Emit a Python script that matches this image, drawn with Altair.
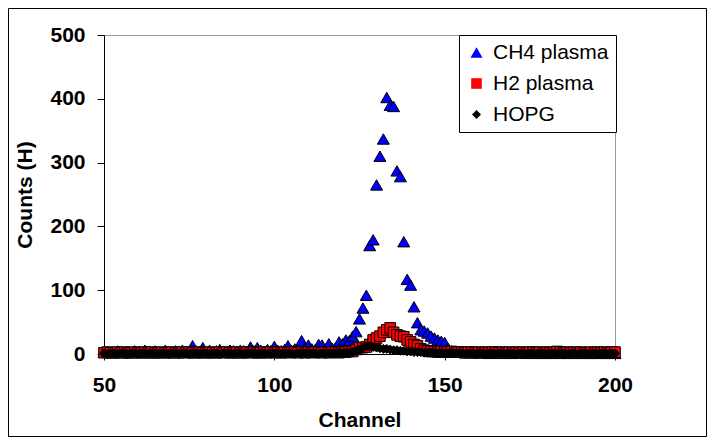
import altair as alt
import pandas as pd

channels = list(range(50, 201))

ch4_counts = [
    3, 4, 2, 3, 5, 3, 2, 4, 3, 5,
    3, 4, 6, 3, 2, 5, 4, 3, 6, 4,
    3, 5, 4, 6, 3, 4, 13, 5, 4, 10,
    4, 6, 3, 5, 7, 4, 3, 6, 5, 4,
    6, 5, 4, 11, 5, 10, 6, 4, 7, 5,
    12, 6, 5, 7, 13, 6, 8, 5, 21, 9,
    14, 8, 7, 15, 14, 8, 16, 9, 10, 19,
    16, 22, 21, 28, 35, 55, 72, 92, 170, 179,
    265, 310, 337, 402, 390, 388, 287, 278, 176, 117,
    108, 74, 49, 38, 36, 33, 28, 25, 22, 20,
    18, 9, 5, 4, 3, 3, 2, 3, 2, 2,
    2, 3, 2, 1, 2, 2, 3, 1, 2, 2,
    1, 2, 2, 3, 1, 2, 2, 1, 2, 1,
    2, 1, 2, 2, 1, 3, 1, 2, 1, 2,
    1, 2, 1, 1, 2, 1, 2, 1, 1, 2,
    1,
]

h2_counts = [
    2, 3, 2, 2, 3, 2, 3, 2, 2, 3,
    2, 2, 3, 2, 3, 2, 2, 3, 2, 2,
    3, 2, 2, 3, 2, 3, 2, 2, 3, 2,
    2, 3, 2, 2, 3, 2, 3, 2, 2, 3,
    2, 2, 3, 2, 3, 2, 2, 3, 2, 3,
    2, 3, 2, 3, 2, 3, 3, 2, 3, 2,
    3, 2, 3, 3, 2, 3, 2, 3, 3, 2,
    3, 3, 4, 4, 7, 10, 10, 11, 15, 22,
    25, 28, 34, 38, 41, 34, 30, 28, 27, 22,
    19, 15, 13, 8, 6, 5, 4, 4, 3, 4,
    3, 3, 4, 3, 3, 3, 2, 3, 3, 2,
    3, 2, 3, 2, 3, 3, 2, 3, 2, 3,
    2, 3, 2, 3, 2, 3, 3, 2, 3, 2,
    3, 2, 3, 4, 3, 2, 3, 2, 3, 2,
    3, 2, 2, 3, 2, 3, 2, 3, 2, 3,
    3,
]

hopg_counts = [
    1, 0, 1, 1, 0, 1, 1, 0, 1, 1,
    0, 1, 1, 0, 1, 1, 0, 1, 1, 0,
    1, 1, 0, 1, 1, 0, 1, 1, 0, 1,
    1, 0, 1, 1, 0, 1, 1, 1, 0, 1,
    1, 0, 1, 1, 1, 0, 1, 1, 0, 1,
    1, 1, 0, 1, 1, 1, 0, 1, 1, 1,
    1, 1, 1, 0, 1, 1, 1, 1, 1, 2,
    1, 2, 2, 3, 5, 7, 10, 12, 12, 11,
    10, 9, 8, 8, 7, 6, 6, 5, 5, 4,
    4, 3, 3, 3, 2, 2, 2, 2, 1, 2,
    1, 1, 2, 1, 1, 1, 0, 1, 1, 0,
    1, 1, 0, 1, 1, 0, 1, 1, 0, 1,
    1, 0, 1, 1, 0, 1, 1, 0, 1, 1,
    0, 1, 1, 0, 1, 1, 0, 1, 1, 0,
    1, 1, 0, 1, 1, 0, 1, 1, 0, 1,
    1,
]

series_names = ["CH4 plasma", "H2 plasma", "HOPG"]
series_fill = ["#0000FF", "#FF0000", "#000000"]
series_shape = ["triangle-up", "square", "diamond"]
series_size = [144, 81, 36]
x_ticks = [50, 100, 150, 200]
y_ticks = [0, 100, 200, 300, 400, 500]

rows = []
for name, vals in zip(series_names, [ch4_counts, h2_counts, hopg_counts]):
    for c, v in zip(channels, vals):
        rows.append({"Channel": c, "Counts": v, "Series": name})
df = pd.DataFrame(rows)

FONT = "Liberation Sans"
W, H = 511, 319
PAD_L, PAD_T, PAD_R, PAD_B = 96, 27, 92, 83

points = alt.Chart(df).mark_point(
    filled=True, stroke="black", strokeWidth=1, opacity=1
).encode(
    x=alt.X(
        "Channel:Q",
        scale=alt.Scale(domain=[50, 200], nice=False, zero=False, padding=0),
        axis=alt.Axis(
            values=x_ticks, title="Channel", grid=False, labelFlush=False,
            domainColor="black", tickColor="black", tickSize=6,
            labelFont=FONT, labelFontSize=21, labelFontWeight="bold",
            labelColor="black", labelPadding=14,
            titleFont=FONT, titleFontSize=21, titleFontWeight="bold",
            titleColor="black", titlePadding=14,
        ),
    ),
    y=alt.Y(
        "Counts:Q",
        scale=alt.Scale(domain=[0, 500], nice=False, padding=0),
        axis=alt.Axis(
            values=y_ticks, title="Counts (H)", grid=False, labelFlush=False,
            domainColor="black", tickColor="black", tickSize=7,
            labelFont=FONT, labelFontSize=21, labelFontWeight="bold",
            labelColor="black", labelPadding=12,
            titleFont=FONT, titleFontSize=21, titleFontWeight="bold",
            titleColor="black", titlePadding=14,
        ),
    ),
    fill=alt.Fill(
        "Series:N",
        scale=alt.Scale(domain=series_names, range=series_fill),
        title=None,
    ),
    shape=alt.Shape(
        "Series:N",
        scale=alt.Scale(domain=series_names, range=series_shape),
        title=None,
    ),
    size=alt.Size(
        "Series:N",
        scale=alt.Scale(domain=series_names, range=series_size),
        title=None,
    ),
)

frame = alt.Chart(alt.Data(values=[{"a": 1}])).mark_rect(
    fillOpacity=0, stroke="black", strokeWidth=1
).encode(
    x=alt.value(-PAD_L + 0.5),
    x2=alt.value(W + PAD_R - 0.5),
    y=alt.value(-PAD_T + 0.5),
    y2=alt.value(H + PAD_B - 0.5),
)

chart = alt.layer(points, frame).properties(
    width=W,
    height=H,
    autosize=alt.AutoSizeParams(type="none"),
    padding={"left": PAD_L, "top": PAD_T, "right": PAD_R, "bottom": PAD_B},
    background="white",
).configure_view(
    stroke="#999999", strokeWidth=1
).configure_legend(
    orient="none", legendX=355, legendY=0,
    padding=7, strokeColor="black", fillColor="white",
    labelFont=FONT, labelFontSize=21, labelColor="black",
    labelOffset=6, rowPadding=9,
    symbolStrokeColor="black", symbolStrokeWidth=1,
)

chart.save("out.html", embed_options={"renderer": "svg", "actions": False})
